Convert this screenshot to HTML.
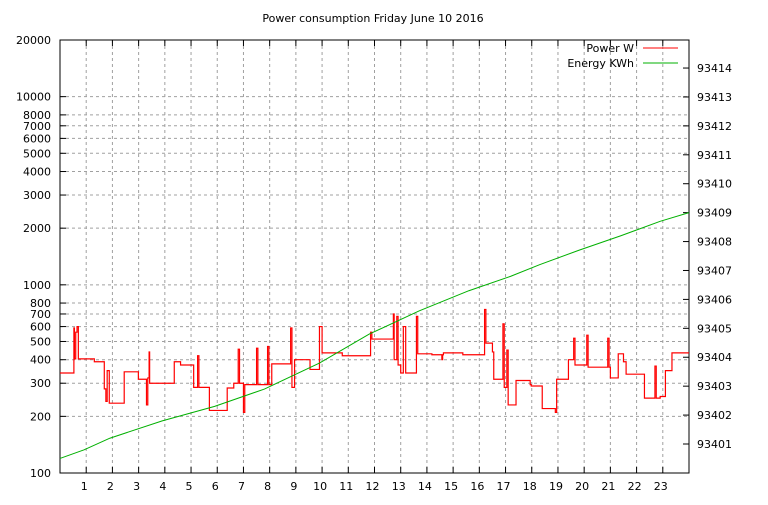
<!DOCTYPE html>
<html><head><meta charset="utf-8"><style>
body{margin:0;background:#fff}
svg text{font-family:"DejaVu Sans","Liberation Sans",sans-serif;font-size:11px;fill:#000}
</style></head><body>
<svg id="c" width="768" height="500" xmlns="http://www.w3.org/2000/svg"></svg>
<script>
const powerHours=[0,0.53,0.55,0.6,0.65,0.7,0.75,1.31,1.69,1.75,1.8,1.88,1.95,2.0,2.45,2.99,3.3,3.35,3.4,3.42,3.47,4.36,4.6,5.1,5.2,5.25,5.3,5.7,6.38,6.63,6.8,6.85,7.0,7.05,7.5,7.55,7.92,7.97,8.08,8.75,8.8,8.85,8.95,9.54,9.9,10.0,10.05,10.77,11.85,11.9,12.0,12.72,12.75,12.85,12.9,13.0,13.1,13.19,13.6,13.65,13.75,13.8,14.19,14.57,14.6,14.63,15.37,16.2,16.25,16.5,16.55,16.9,16.95,17.05,17.1,17.2,17.4,17.94,17.98,18.4,18.9,18.95,19.4,19.6,19.65,20.1,20.15,20.9,20.95,21.0,21.3,21.5,21.6,22.3,22.7,22.75,22.9,23.1,23.35,24];
const powerValues=[340,590,404,560,600,404,404,390,280,240,350,235,235,235,345,315,230,320,440,300,300,390,375,285,285,420,285,215,283,300,455,300,210,295,460,295,470,295,380,380,590,285,400,355,600,435,435,420,560,515,515,700,400,680,375,340,600,340,680,430,430,430,425,400,425,435,425,740,490,440,315,620,285,450,230,230,310,295,290,220,210,315,400,520,375,540,365,520,365,320,430,390,335,250,370,250,255,350,435,435];
const energyHours=[0,0.92,1.9,3.9,5.9,7.8,9.9,11.8,13.7,15.6,17.2,18.3,19.8,21.4,22.9,24];
const energyValues=[93400.5,93400.8,93401.2,93401.8,93402.3,93402.9,93403.8,93404.8,93405.6,93406.3,93406.8,93407.2,93407.7,93408.2,93408.7,93409.0];
const xTicks=[1,2,3,4,5,6,7,8,9,10,11,12,13,14,15,16,17,18,19,20,21,22,23];
const yTicks=[100,200,300,400,500,600,700,800,1000,2000,3000,4000,5000,6000,7000,8000,10000,20000];
const y2Ticks=[93401,93402,93403,93404,93405,93406,93407,93408,93409,93410,93411,93412,93413,93414];
const L=60,R=689,T=40,B=473;
const X=h=>L+h/24*(R-L);
const Y=v=>B-(Math.log10(v)-2)/(Math.log10(20000)-2)*(B-T);
const Y2=v=>444-(v-93401)*28.92;
const svg=document.getElementById('c');const NS='http://www.w3.org/2000/svg';
function el(t,a,txt){const e=document.createElementNS(NS,t);for(const k in a)e.setAttribute(k,a[k]);if(txt!=null)e.textContent=txt;svg.appendChild(e);return e;}
// grid
xTicks.forEach(h=>{const g=el('line',{x1:X(h),x2:X(h),y1:T,y2:B,stroke:'#a0a0a0','stroke-dasharray':'3,3'});


const t=el('text',{x:X(h)-2,y:490,'text-anchor':'middle'},String(h));


el('line',{x1:X(h),x2:X(h),y1:B,y2:B-6,stroke:'#000'});el('line',{x1:X(h),x2:X(h),y1:T,y2:T+6,stroke:'#000'});});
yTicks.forEach(v=>{const g=el('line',{x1:L,x2:R,y1:Y(v),y2:Y(v),stroke:'#a0a0a0','stroke-dasharray':'3,3'});


const t=el('text',{x:L-9,y:Y(v)+4,'text-anchor':'end'},String(v));


el('line',{x1:L,x2:L+6,y1:Y(v),y2:Y(v),stroke:'#000'});});
y2Ticks.forEach(v=>{const t=el('text',{x:697,y:Y2(v)+4},String(v));


el('line',{x1:R,x2:R-6,y1:Y2(v),y2:Y2(v),stroke:'#000'});});
const fr=el('rect',{x:L,y:T,width:R-L,height:B-T,fill:'none',stroke:'#000'});


// power step line
let d='';powerHours.forEach((h,i)=>{if(i==0)d+=`M${X(h)},${Y(powerValues[i])}`;else d+=`H${X(h)}V${Y(powerValues[i])}`;});
const p=el('path',{d:d,fill:'none',stroke:'#ff0000','stroke-width':1.2});


const e=el('polyline',{points:energyHours.map((h,i)=>X(h)+','+Y2(energyValues[i])).join(' '),fill:'none',stroke:'#00b000','stroke-width':1});


const ti=el('text',{x:373,y:22,'text-anchor':'middle'},'Power consumption Friday June 10 2016');


const l1=el('text',{x:634,y:52,'text-anchor':'end'},'Power W');


el('line',{x1:643,x2:678,y1:48,y2:48,stroke:'#ff0000'});
const l2=el('text',{x:634,y:67,'text-anchor':'end'},'Energy KWh');


el('line',{x1:643,x2:678,y1:63,y2:63,stroke:'#00b000'});
</script>
</body></html>
